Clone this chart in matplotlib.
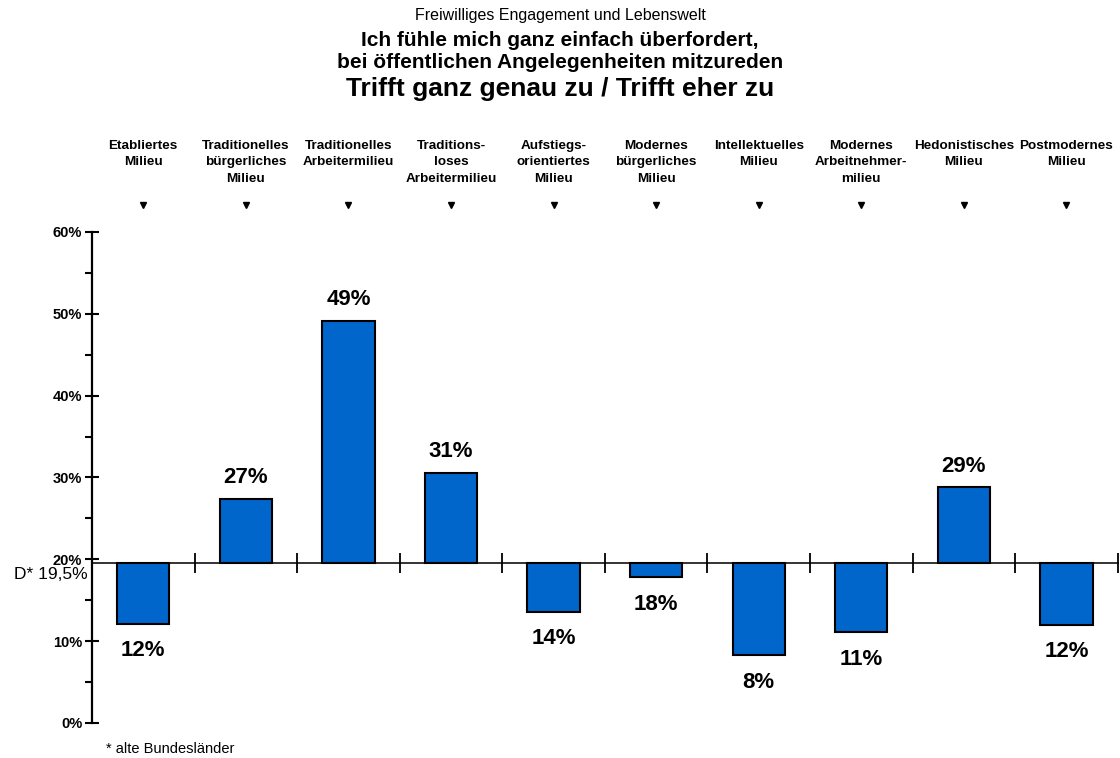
import matplotlib
matplotlib.use("Agg")
import matplotlib.pyplot as plt
import matplotlib.transforms as mtransforms

plt.rcParams["font.family"] = ["Liberation Sans", "DejaVu Sans"]

# Milieus (header labels)
milieus = [
    "Etabliertes\nMilieu",
    "Traditionelles\nbürgerliches\nMilieu",
    "Traditionelles\nArbeitermilieu",
    "Traditions-\nloses\nArbeitermilieu",
    "Aufstiegs-\norientiertes\nMilieu",
    "Modernes\nbürgerliches\nMilieu",
    "Intellektuelles\nMilieu",
    "Modernes\nArbeitnehmer-\nmilieu",
    "Hedonistisches\nMilieu",
    "Postmodernes\nMilieu",
]
# Share "trifft ganz genau zu / trifft eher zu" in percent
values = [12.1, 27.4, 49.1, 30.6, 13.6, 17.8, 8.3, 11.1, 28.8, 12.0]
# Reference value for Germany (old federal states)
reference = 19.5
y_ticks = [0, 10, 20, 30, 40, 50, 60]

bar_color = "#0066CC"

fig = plt.figure(figsize=(11.2, 7.58), dpi=100)
ax = fig.add_axes([0.0821, 0.0462, 0.9159, 0.6478])

n = len(values)
xs = [i + 0.5 for i in range(n)]
ax.bar(xs, [v - reference for v in values], bottom=reference, width=0.51,
       color=bar_color, edgecolor="black", linewidth=1.5, zorder=3)

ax.set_xlim(0, n)
ax.set_ylim(0, 60)

# y axis
for side in ("top", "right", "bottom"):
    ax.spines[side].set_visible(False)
ax.spines["left"].set_linewidth(1.6)
ax.set_xticks([])
ax.set_yticks(y_ticks)
ax.set_yticklabels([f"{t}%" for t in y_ticks], fontsize=10.5, fontweight="bold")
ax.set_yticks([5, 15, 25, 35, 45, 55], minor=True)
ax.tick_params(axis="y", which="major", direction="inout", length=10, width=1.5, pad=2)
ax.tick_params(axis="y", which="minor", direction="out", length=5, width=1.5)

# reference baseline with category separators
ax.plot([0, n], [reference, reference], color="#333333", linewidth=1.4,
        zorder=2, clip_on=False)
ax.plot(range(1, n + 1), [reference] * n, linestyle="none", marker="|",
        markersize=15, markeredgewidth=1.3, color="black", zorder=2,
        clip_on=False)

ax.text(-0.004, reference - 0.4, "D* 19,5%", ha="right", va="top", fontsize=12.5,
        transform=mtransforms.blended_transform_factory(ax.transAxes, ax.transData))

# value labels
for x, v in zip(xs, values):
    label = f"{v:.0f}%"
    y = v + 2.6 if v >= reference else v - 3.3
    ax.text(x, y, label, ha="center", va="center", fontsize=16,
            fontweight="bold")

# column headers with small down-pointing markers
trans = mtransforms.blended_transform_factory(ax.transData, ax.transAxes)
for x, name in zip(xs, milieus):
    ax.text(x, 1.187, name, ha="center", va="top", fontsize=9.7,
            fontweight="bold", linespacing=1.47, transform=trans)
    ax.plot([x], [1.055], marker="v", markersize=5, color="black",
            transform=trans, clip_on=False)

# titles
fig.text(0.5, 0.979, "Freiwilliges Engagement und Lebenswelt",
         ha="center", va="center", fontsize=11.5)
fig.text(0.5, 0.947, "Ich fühle mich ganz einfach überfordert,",
         ha="center", va="center", fontsize=15, fontweight="bold")
fig.text(0.5, 0.918, "bei öffentlichen Angelegenheiten mitzureden",
         ha="center", va="center", fontsize=15, fontweight="bold")
fig.text(0.5, 0.883, "Trifft ganz genau zu / Trifft eher zu",
         ha="center", va="center", fontsize=19, fontweight="bold")

fig.text(106 / 1120, 1 - 749 / 758, "* alte Bundesländer", ha="left",
         va="center", fontsize=10.5)

fig.savefig("out.png", dpi=100)
